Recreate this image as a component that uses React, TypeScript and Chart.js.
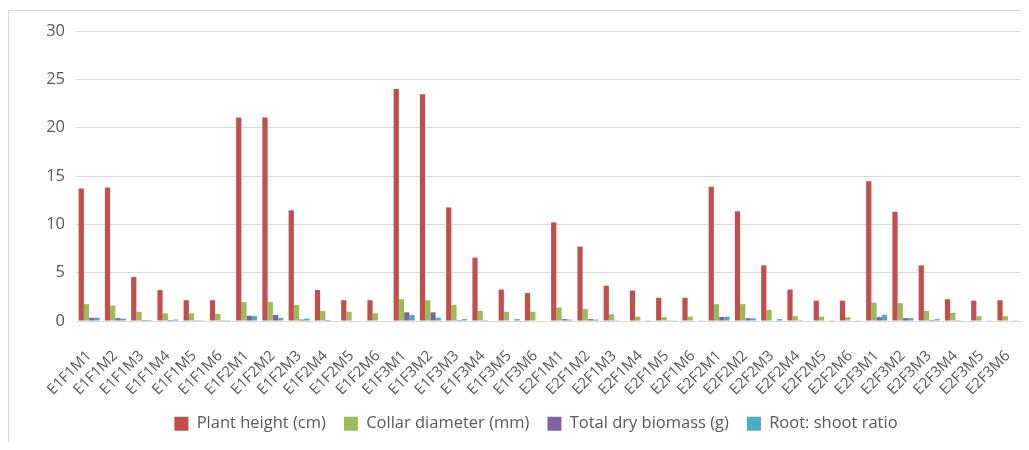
import React, { useEffect, useRef } from "react";
import { Chart, registerables } from "chart.js";

Chart.register(...registerables);

const categories = [
  "E1F1M1", "E1F1M2", "E1F1M3", "E1F1M4", "E1F1M5", "E1F1M6",
  "E1F2M1", "E1F2M2", "E1F2M3", "E1F2M4", "E1F2M5", "E1F2M6",
  "E1F3M1", "E1F3M2", "E1F3M3", "E1F3M4", "E1F3M5", "E1F3M6",
  "E2F1M1", "E2F1M2", "E2F1M3", "E2F1M4", "E2F1M5", "E2F1M6",
  "E2F2M1", "E2F2M2", "E2F2M3", "E2F2M4", "E2F2M5", "E2F2M6",
  "E2F3M1", "E2F3M2", "E2F3M3", "E2F3M4", "E2F3M5", "E2F3M6",
];

const plantHeight = [
  13.7, 13.8, 4.55, 3.2, 2.15, 2.15,
  21.05, 21.05, 11.45, 3.2, 2.15, 2.15,
  24.0, 23.45, 11.75, 6.55, 3.25, 2.9,
  10.2, 7.7, 3.65, 3.15, 2.4, 2.4,
  13.9, 11.35, 5.75, 3.25, 2.1, 2.1,
  14.45, 11.3, 5.75, 2.25, 2.1, 2.15,
];

const collarDiameter = [
  1.75, 1.6, 0.95, 0.8, 0.8, 0.75,
  1.95, 1.95, 1.65, 1.05, 0.95, 0.8,
  2.25, 2.15, 1.65, 1.05, 0.95, 0.95,
  1.4, 1.25, 0.7, 0.45, 0.4, 0.45,
  1.75, 1.75, 1.15, 0.5, 0.45, 0.4,
  1.9, 1.85, 1.05, 0.85, 0.5, 0.5,
];

const totalDryBiomass = [
  0.34, 0.3, 0.1, 0.1, 0.08, 0.08,
  0.55, 0.62, 0.15, 0.1, 0.05, 0.05,
  0.9, 0.9, 0.1, 0.08, 0.05, 0.05,
  0.2, 0.2, 0.03, 0.05, 0.03, 0.05,
  0.41, 0.28, 0.05, 0.08, 0.05, 0.05,
  0.4, 0.3, 0.1, 0.08, 0.05, 0.05,
];

const rootShootRatio = [
  0.34, 0.25, 0.1, 0.15, 0.08, 0.08,
  0.5, 0.3, 0.25, 0.05, 0.05, 0.05,
  0.62, 0.34, 0.2, 0.05, 0.2, 0.05,
  0.15, 0.15, 0.05, 0.03, 0.03, 0.03,
  0.45, 0.28, 0.2, 0.05, 0.03, 0.03,
  0.62, 0.3, 0.2, 0.05, 0.03, 0.03,
];

const seriesNames = [
  "Plant height (cm)",
  "Collar diameter (mm)",
  "Total dry biomass (g)",
  "Root: shoot ratio",
];
const seriesColors = ["#C0504D", "#9BBB59", "#8064A2", "#4BACC6"];

const yMin = 0;
const yMax = 30;
const yStep = 5;

const FONT = "'Open Sans', 'Noto Sans', sans-serif";
const FONT_SIZE = 16.5;
const X_FONT_SIZE = 15;
const TEXT = "#595959";
const GRID = "#D9D9D9";

const CANVAS_W = 1056;
const CANVAS_H = 434;

export default function App() {
  const canvasRef = useRef<HTMLCanvasElement | null>(null);

  useEffect(() => {
    const canvas = canvasRef.current;
    if (!canvas) return;
    const values = [plantHeight, collarDiameter, totalDryBiomass, rootShootRatio];
    const chart = new Chart(canvas, {
      type: "bar",
      data: {
        labels: categories,
        datasets: seriesNames.map((name, i) => ({
          label: name,
          data: values[i],
          backgroundColor: seriesColors[i],
          borderWidth: 0,
          categoryPercentage: 0.8,
          barPercentage: 1.0,
          yAxisID: "y",
        })),
      },
      options: {
        animation: false,
        responsive: false,
        maintainAspectRatio: false,
        devicePixelRatio: 1,
        layout: { padding: { left: 0, right: 0, top: 23, bottom: 0 } },
        plugins: {
          tooltip: { enabled: false },
          title: { display: false },
          legend: {
            display: true,
            position: "bottom",
            labels: {
              boxWidth: 14,
              boxHeight: 14,
              padding: 18,
              color: TEXT,
              font: { family: FONT, size: FONT_SIZE },
            },
          },
        },
        scales: {
          x: {
            grid: { display: false, drawTicks: false },
            border: { display: false },
            ticks: {
              color: TEXT,
              font: { family: FONT, size: X_FONT_SIZE },
              minRotation: 45,
              maxRotation: 45,
              autoSkip: false,
              padding: 26,
            },
            afterFit: (s: any) => {
              s.height = 76.5;
            },
          },
          y: {
            position: "left",
            min: yMin,
            max: yMax,
            grid: { color: GRID, lineWidth: 1, drawTicks: false },
            border: { display: false },
            ticks: {
              stepSize: yStep,
              color: TEXT,
              font: { family: FONT, size: FONT_SIZE },
              padding: 11,
            },
            afterFit: (s: any) => {
              s.width = 68;
            },
          },
          spacer: {
            type: "linear",
            position: "right",
            display: true,
            grid: { display: false, drawTicks: false },
            border: { display: false },
            ticks: { display: false },
            afterFit: (s: any) => {
              s.width = 43;
            },
          },
        },
      },
    });
    return () => chart.destroy();
  }, []);

  return (
    <div style={{ position: "relative", width: 1021, height: CANVAS_H, overflow: "hidden" }}>
      <div
        style={{
          position: "absolute",
          left: 0,
          top: 2,
          width: 1021,
          height: 440,
          borderTop: `1px solid ${GRID}`,
          borderLeft: `1px solid ${GRID}`,
          boxSizing: "border-box",
        }}
      />
      <canvas
        ref={canvasRef}
        width={CANVAS_W}
        height={CANVAS_H}
        style={{ position: "absolute", left: 0, top: 0, width: CANVAS_W, height: CANVAS_H }}
      />
    </div>
  );
}
